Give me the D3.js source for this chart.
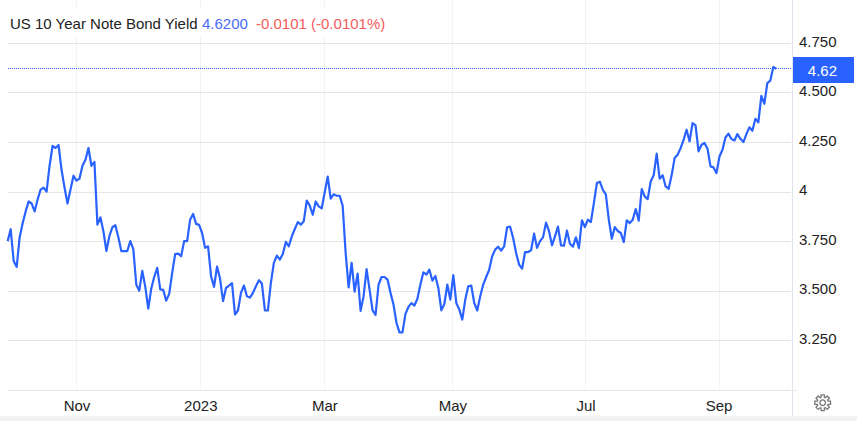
<!DOCTYPE html>
<html>
<head>
<meta charset="utf-8">
<script src="https://cdn.jsdelivr.net/npm/d3@7"></script>
<style>
    html, body { margin: 0; padding: 0; background: #fff; }
    svg { display: block; }
    text { font-family: "Liberation Sans", Arial, sans-serif; }
</style>
</head>
<body>
<svg id="chart" width="857" height="421"></svg>
<script>
// daily yield, one value per trading day
const yields = [
    3.75,3.81,3.65,3.62,3.77,3.84,3.90,3.95,3.94,3.90,
    3.96,4.01,4.02,4.00,4.13,4.23,4.22,4.235,4.11,4.02,
    3.94,4.01,4.08,4.055,4.065,4.13,4.16,4.22,4.13,4.15,
    3.833,3.87,3.80,3.70,3.775,3.82,3.83,3.77,3.70,3.70,
    3.70,3.75,3.71,3.53,3.50,3.60,3.52,3.41,3.51,3.57,
    3.615,3.507,3.504,3.45,3.484,3.59,3.685,3.687,3.674,3.75,
    3.75,3.858,3.887,3.837,3.832,3.791,3.716,3.724,3.573,3.519,
    3.622,3.561,3.447,3.514,3.526,3.538,3.38,3.40,3.489,3.526,
    3.472,3.465,3.489,3.522,3.553,3.536,3.401,3.40,3.539,3.64,
    3.677,3.657,3.685,3.746,3.724,3.774,3.811,3.846,3.833,3.85,
    3.955,3.929,3.883,3.95,3.925,3.915,3.996,4.076,3.964,3.986,
    3.979,3.979,3.929,3.69,3.517,3.64,3.495,3.586,3.398,3.472,
    3.609,3.505,3.401,3.378,3.53,3.569,3.569,3.556,3.489,3.43,
    3.338,3.29,3.29,3.383,3.418,3.437,3.425,3.459,3.531,3.593,
    3.581,3.606,3.551,3.574,3.514,3.401,3.433,3.531,3.455,3.578,
    3.438,3.405,3.354,3.455,3.522,3.526,3.438,3.40,3.472,3.531,
    3.569,3.606,3.674,3.707,3.722,3.702,3.724,3.82,3.823,3.766,
    3.69,3.632,3.611,3.695,3.695,3.704,3.788,3.716,3.75,3.769,
    3.843,3.80,3.729,3.774,3.823,3.729,3.727,3.803,3.737,3.722,
    3.769,3.715,3.855,3.821,3.858,3.846,3.942,4.043,4.05,4.009,
    3.986,3.858,3.762,3.821,3.801,3.791,3.745,3.855,3.841,3.858,
    3.912,3.853,4.013,3.976,3.962,4.051,4.082,4.191,4.065,4.082,
    4.026,4.014,4.082,4.169,4.186,4.219,4.261,4.312,4.253,4.345,
    4.334,4.203,4.236,4.245,4.216,4.127,4.122,4.093,4.177,4.211,
    4.273,4.292,4.265,4.258,4.29,4.266,4.25,4.29,4.324,4.307,
    4.367,4.349,4.483,4.443,4.547,4.56,4.628,4.62
];

// month ticks sit between trading days, so these are fractional indexes
const xTickIndex = [23, 64.4, 105.9, 148.7, 193.2, 237.7];
const xTickLabels = ["Nov", "2023", "Mar", "May", "Jul", "Sep"];

const yTicks = [3, 3.25, 3.5, 3.75, 4, 4.25, 4.5, 4.75];
const yTickLabels = ["", "3.250", "3.500", "3.750", "4", "4.250", "4.500", "4.750"];

const lastValue = 4.62;
const lastLabel = "4.62";
const titleName = "US 10 Year Note Bond Yield";
const titleValue = "4.6200";
const titleChange = "-0.0101 (-0.0101%)";

const blue = "#2962ff";
const plotLeft = 8, plotRight = 792, plotBottom = 390;
const fontSize = "15px";

let svg = d3.select("#chart");

let x = d3.scaleLinear().domain([0, yields.length - 1]).range([7.7, 776.3]);
let y = d3.scaleLinear().domain([3, 4.75]).range([389.8, 42.9]);

// vertical grid
svg.append("g")
    .attr("class", "xgrid")
    .attr("transform", "translate(0," + plotBottom + ")")
    .call(d3.axisBottom(x).tickValues(xTickIndex).tickSize(-plotBottom).tickFormat(""))
    .call(g => g.select(".domain").remove())
    .call(g => g.selectAll("line").attr("stroke", "#f0f3fa").attr("shape-rendering", "crispEdges"));

// white plate behind the title cuts the vertical grid
svg.append("rect")
    .attr("x", plotLeft).attr("y", 8)
    .attr("width", 382).attr("height", 28)
    .attr("fill", "#fff");

// horizontal grid
svg.append("g")
    .attr("class", "ygrid")
    .attr("transform", "translate(" + (plotRight - 1) + ",0)")
    .call(d3.axisLeft(y).tickValues(yTicks).tickSize(plotRight - 1 - plotLeft).tickFormat(""))
    .call(g => g.select(".domain").remove())
    .call(g => g.selectAll("line").attr("stroke", "#e6e6e6").attr("shape-rendering", "crispEdges"));

// right axis line + labels
svg.append("line")
    .attr("x1", plotRight + 0.5).attr("x2", plotRight + 0.5)
    .attr("y1", 0).attr("y2", 416)
    .attr("stroke", "#e0e3eb");

svg.append("line")
    .attr("x1", plotRight).attr("x2", plotRight + 5)
    .attr("y1", plotBottom + 0.5).attr("y2", plotBottom + 0.5)
    .attr("stroke", "#e6e6e6");

svg.append("g")
    .attr("transform", "translate(" + (plotRight + 7) + ",0)")
    .call(d3.axisRight(y).tickValues(yTicks).tickSize(0).tickFormat((d, i) => yTickLabels[i]))
    .call(g => g.select(".domain").remove())
    .call(g => g.selectAll("text")
        .attr("x", 0).attr("dy", "0.22em")
        .attr("fill", "#222")
        .style("font-family", '"Liberation Sans", Arial, sans-serif')
        .style("font-size", fontSize));

// bottom labels
svg.append("g")
    .attr("transform", "translate(0," + plotBottom + ")")
    .call(d3.axisBottom(x).tickValues(xTickIndex).tickSize(0).tickFormat((d, i) => xTickLabels[i]))
    .call(g => g.select(".domain").remove())
    .call(g => g.selectAll("text")
        .attr("y", 10).attr("dy", "0.71em")
        .attr("fill", "#222")
        .style("font-family", '"Liberation Sans", Arial, sans-serif')
        .style("font-size", fontSize));

// strip along the bottom
svg.append("rect")
    .attr("x", 0).attr("y", 416)
    .attr("width", 857).attr("height", 5)
    .attr("fill", "#f2f2f2");

// last value marker
svg.append("line")
    .attr("x1", plotLeft).attr("x2", plotRight)
    .attr("y1", 68.5).attr("y2", 68.5)
    .attr("stroke", blue)
    .attr("stroke-dasharray", "1 1");

svg.append("rect")
    .attr("x", plotRight + 1).attr("y", 57)
    .attr("width", 61).attr("height", 26)
    .attr("fill", blue);

svg.append("text")
    .attr("x", 837).attr("y", y(lastValue) + 7)
    .attr("text-anchor", "end")
    .attr("fill", "#fff")
    .style("font-size", fontSize)
    .text(lastLabel);

// the series
let line = d3.line()
    .x((d, i) => x(i))
    .y(d => y(d));

svg.append("path")
    .datum(yields)
    .attr("d", line)
    .attr("fill", "none")
    .attr("stroke", blue)
    .attr("stroke-width", 2.2)
    .attr("stroke-linejoin", "round");

// title
let title = svg.append("text")
    .attr("x", 10).attr("y", 29)
    .style("font-size", fontSize);
title.append("tspan").attr("fill", "#222").text(titleName);
title.append("tspan").attr("x", 202).attr("fill", "#4a6cf7").text(titleValue);
title.append("tspan").attr("x", 256).attr("fill", "#f45b5b").text(titleChange);

// settings gear
let gearR = [];
for (let k = 0; k < 8; k++) {
    let a = k * Math.PI / 4;
    [[-0.3, 5.6], [-0.2, 8], [0.2, 8], [0.3, 5.6]].forEach(p => gearR.push([a + p[0], p[1]]));
}
let gear = svg.append("g").attr("transform", "translate(822.7,402.7)")
    .attr("fill", "none").attr("stroke", "#777").attr("stroke-width", 1.3);
gear.append("path").attr("d", d3.lineRadial().curve(d3.curveLinearClosed)(gearR));
gear.append("circle").attr("r", 2.8);
</script>
</body>
</html>
